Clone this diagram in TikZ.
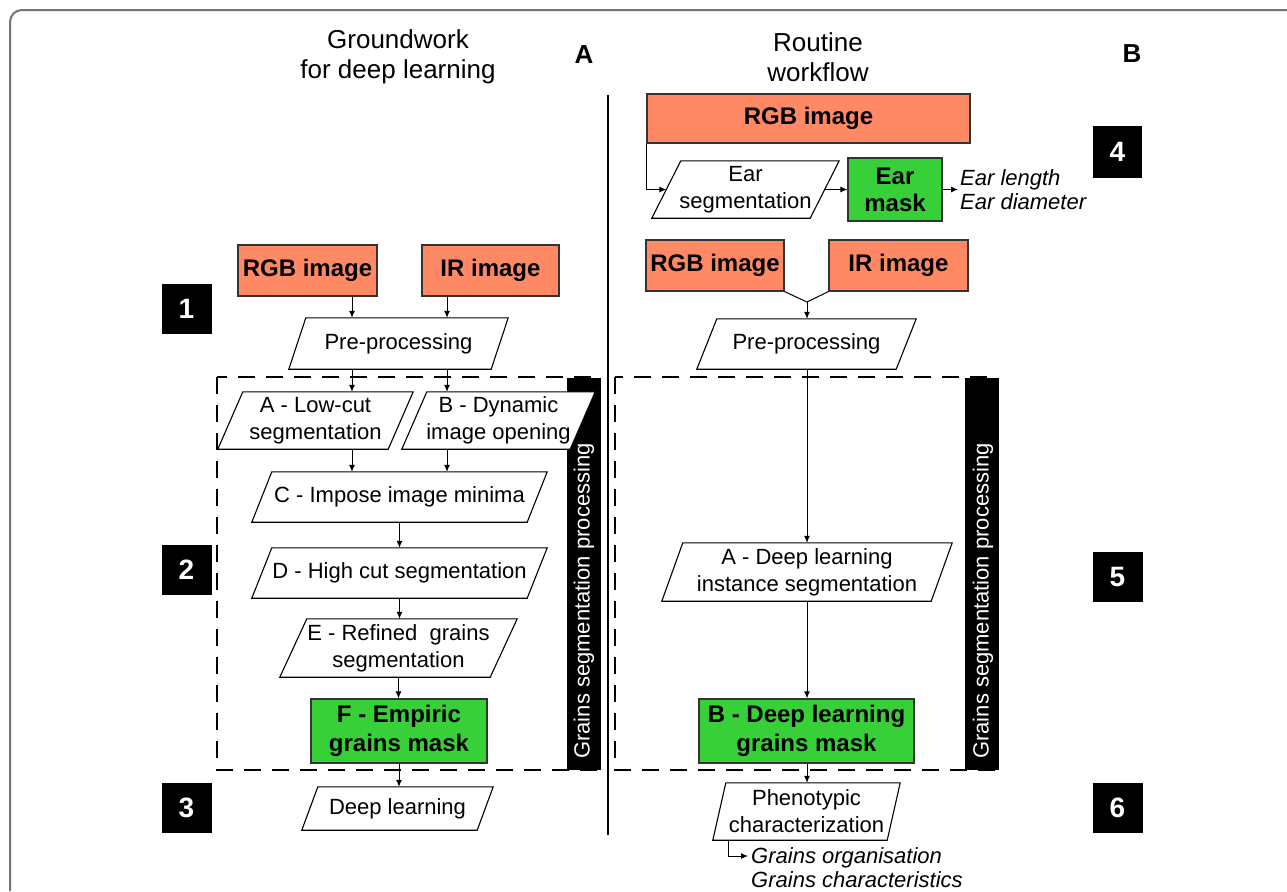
\documentclass[tikz,border=0pt]{standalone}
\usepackage{fontspec}
\setmainfont{Liberation Sans}
\usetikzlibrary{arrows.meta}
\definecolor{salmon}{RGB}{255,137,100}
\definecolor{mgreen}{RGB}{56,208,56}
\definecolor{framegray}{RGB}{115,115,115}
\pgfdeclarelayer{bg}
\pgfdeclarelayer{mid}
\pgfsetlayers{bg,mid,main}
\newcommand\para[2]{\begin{pgfonlayer}{mid}\draw[pline] ([xshift=#2]#1.north west) -- (#1.north east) -- ([xshift=-#2]#1.south east) -- (#1.south west) -- cycle;\end{pgfonlayer}}
\begin{document}
\begin{tikzpicture}[x=1pt,y=-1pt,
  body/.style={font=\fontsize{22}{27}\selectfont},
  pbox/.style={body, inner sep=0pt, align=center},
  pline/.style={draw=black, line width=1.1pt, fill=white},
  rbox/.style={draw=black!80, line width=1.2pt, inner sep=0pt, align=center, font=\fontsize{24}{29}\selectfont\bfseries},
  img/.style={rbox, fill=salmon},
  mask/.style={rbox, fill=mgreen},
  arr/.style={-{Latex[length=7pt,width=6pt]}, line width=1pt},
  ln/.style={line width=1pt},
  numbox/.style={fill=black, text=white, inner sep=0pt, minimum width=50pt, minimum height=50pt, font=\fontsize{28}{30}\selectfont\bfseries},
  dashbox/.style={draw=black, line width=2pt, dash pattern=on 17pt off 11pt},
  bar/.style={fill=black, inner sep=0pt, minimum width=34pt, minimum height=392pt},
  bartext/.style={text=white, rotate=90, font=\fontsize{22}{26}\selectfont},
  title/.style={align=center, font=\fontsize{26}{30}\selectfont},
  letter/.style={font=\fontsize{26}{30}\selectfont\bfseries},
  outtext/.style={align=left, inner sep=2pt, font=\fontsize{22}{24}\selectfont\itshape}
]
\begin{pgfonlayer}{bg}
\useasboundingbox (0,0) rectangle (1287,891);
\fill[white] (0,0) rectangle (1287,891);
% frame
\draw[framegray, line width=2pt, rounded corners=12pt] (10,891) -- (10,10) -- (1287,10);
% dashed boxes and bars
\draw[dashbox] (217,377) rectangle (599,770);
\draw[dashbox] (615,377) rectangle (996,770);
\node[bar] (barL) at (583.5,574) {};
\node[bartext] (btL) at (584,601) {Grains segmentation processing};
\node[bar] (barR) at (981.5,574) {};
\node[bartext] (btR) at (983,601) {Grains segmentation processing};
\end{pgfonlayer}

% titles
\node[title] (t1) at (398,57) {Groundwork\\for deep learning};
\node[letter] (la) at (584,55) {A};
\node[title] (t2) at (818,57) {Routine\\workflow};
\node[letter] (lb) at (1132,54) {B};

% divider
\coordinate (dtop) at (608,95);
\coordinate (dbot) at (608,835);
\draw[line width=2pt] (dtop) -- (dbot);

% number boxes
\node[numbox] (n1) at (186.5,309) {1};
\node[numbox] (n2) at (186.5,570) {2};
\node[numbox] (n3) at (186.5,808) {3};
\node[numbox, minimum width=49pt, minimum height=52pt] (n4) at (1117.5,152) {4};
\node[numbox] (n5) at (1117.5,577) {5};
\node[numbox] (n6) at (1117.5,808) {6};

% ---------------- left column ----------------
\node[img, minimum width=139pt, minimum height=51pt] (rgbL) at (307.5,270.5) {RGB image};
\node[img, minimum width=137pt, minimum height=51pt] (irL) at (490.5,270.5) {IR image};
\node[pbox, minimum width=219pt, minimum height=51pt] (preL) at (398.5,343.5) {Pre-processing};
\para{preL}{17pt}
\node[pbox, minimum width=195pt, minimum height=57pt] (lowcut) at (315.5,420.5) {A - Low-cut\\segmentation};
\para{lowcut}{25pt}
\node[pbox, minimum width=193pt, minimum height=57pt] (dyn) at (498.5,420.5) {B - Dynamic\\image opening};
\para{dyn}{25pt}
\node[pbox, minimum width=295pt, minimum height=50pt] (impose) at (399.5,497) {C - Impose image minima};
\para{impose}{20pt}
\node[pbox, minimum width=295pt, minimum height=50pt] (highcut) at (399.5,573) {D - High cut segmentation};
\para{highcut}{20pt}
\node[pbox, minimum width=237pt, minimum height=58pt] (refined) at (398.5,648) {E - Refined~ grains\\segmentation};
\para{refined}{27pt}
\node[mask, minimum width=176pt, minimum height=64pt] (empiric) at (399,731) {F - Empiric\\grains mask};
\node[pbox, minimum width=191pt, minimum height=43pt] (deepL) at (397.5,808.5) {Deep learning};
\para{deepL}{16pt}

\coordinate (xl) at (352,0);
\coordinate (xr) at (447,0);
\draw[arr] (rgbL.south -| xl) -- (preL.north -| xl);
\draw[arr] (irL.south -| xr) -- (preL.north -| xr);
\draw[arr] (preL.south -| xl) -- (lowcut.north -| xl);
\draw[arr] (preL.south -| xr) -- (dyn.north -| xr);
\draw[arr] (lowcut.south -| xl) -- (impose.north -| xl);
\draw[arr] (dyn.south -| xr) -- (impose.north -| xr);
\draw[arr] (impose.south) -- (impose.south |- highcut.north);
\draw[arr] (highcut.south) -- (highcut.south |- refined.north);
\draw[arr] (refined.south) -- (refined.south |- empiric.north);
\draw[arr] (empiric.south) -- (empiric.south |- deepL.north);

% ---------------- right column ----------------
\node[img, minimum width=323pt, minimum height=49pt] (rgbT) at (808.5,118.5) {RGB image};
\node[pbox, minimum width=187pt, minimum height=57pt] (earseg) at (745.5,189.5) {Ear\\segmentation};
\para{earseg}{29pt}
\node[mask, minimum width=94pt, minimum height=63pt, font=\fontsize{24}{27}\selectfont\bfseries] (earmask) at (895,189.5) {Ear\\mask};
\node[outtext, anchor=west] (earout) at (958,189.5) {Ear length\\Ear diameter};
\draw[arr] (rgbT.south west) |- ([xshift=14.5pt]earseg.west);
\draw[arr] ([xshift=-14.5pt]earseg.east) -- (earmask.west);
\draw[arr] (earmask.east) -- (earout.west);

\node[img, minimum width=138pt, minimum height=51pt] (rgbR) at (715,265.5) {RGB image};
\node[img, minimum width=139pt, minimum height=51pt] (irR) at (898.5,265.5) {IR image};
\coordinate (junc) at (807,302);
\node[pbox, minimum width=219pt, minimum height=50pt] (preR) at (806.5,344) {Pre-processing};
\para{preR}{20pt}
\draw[ln] (rgbR.south east) -- (junc) -- (irR.south west);
\draw[arr] (junc) -- (junc |- preR.north);

\node[pbox, minimum width=290pt, minimum height=58pt] (deepA) at (807,572) {A - Deep learning\\instance segmentation};
\para{deepA}{21pt}
\node[mask, minimum width=215pt, minimum height=64pt] (deepB) at (806.5,731) {B - Deep learning\\grains mask};
\node[pbox, minimum width=187pt, minimum height=57pt] (pheno) at (806.5,811.5) {Phenotypic\\characterization};
\para{pheno}{13pt}
\node[outtext, anchor=west, inner sep=3pt] (phout) at (748,868) {Grains organisation\\Grains characteristics};

\draw[arr] (junc |- preR.south) -- (junc |- deepA.north);
\draw[arr] (junc |- deepA.south) -- (junc |- deepB.north);
\draw[arr] (junc |- deepB.south) -- (junc |- pheno.north);
\draw[arr] ([xshift=16pt]pheno.south west) |- ([yshift=12pt]phout.west);
\end{tikzpicture}
\end{document}
